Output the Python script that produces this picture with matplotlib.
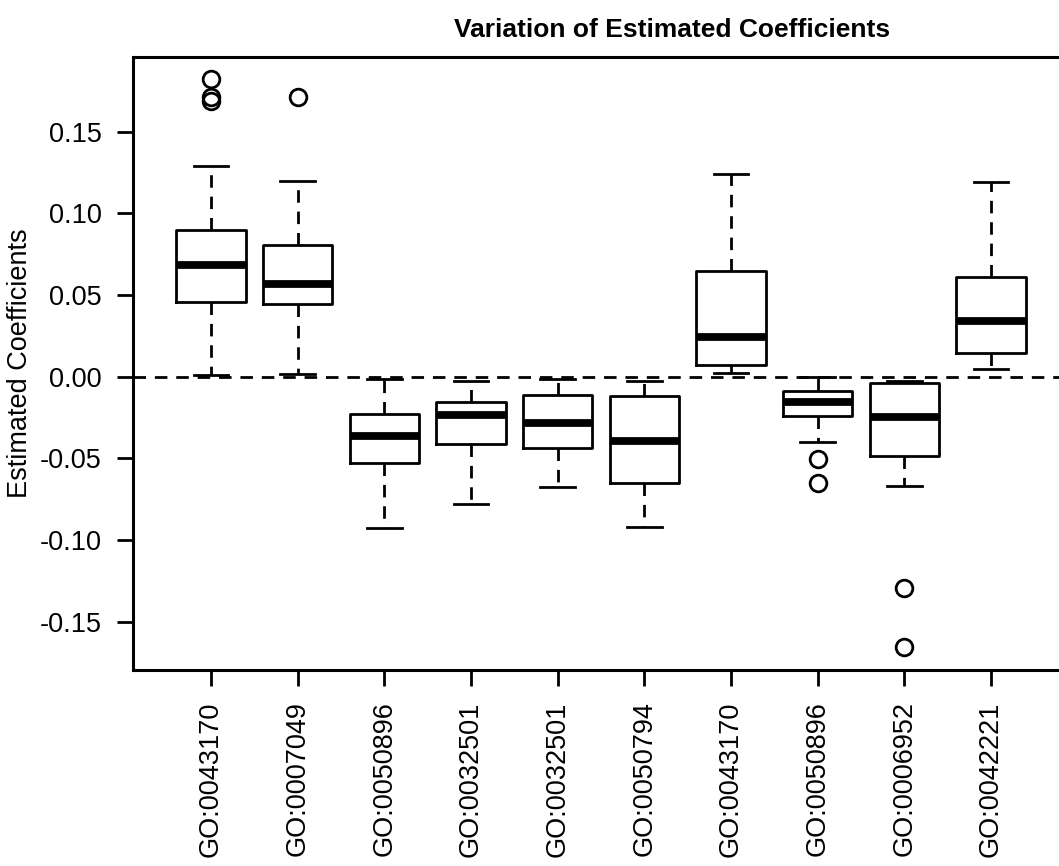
import matplotlib
matplotlib.use('Agg')
import matplotlib.pyplot as plt

plt.rcParams['font.family'] = ['Liberation Sans', 'DejaVu Sans']

labels = ['GO:0043170', 'GO:0007049', 'GO:0050896', 'GO:0032501', 'GO:0032501',
          'GO:0050794', 'GO:0043170', 'GO:0050896', 'GO:0006952', 'GO:0042221']
whislo = [0.0010, 0.0017, -0.0925, -0.0781, -0.0675, -0.0920, 0.0025, -0.0398, -0.0669, 0.0045]
q1 = [0.0456, 0.0443, -0.0527, -0.0412, -0.0435, -0.0653, 0.0072, -0.0241, -0.0484, 0.0143]
med = [0.0684, 0.0568, -0.0363, -0.0235, -0.0286, -0.0392, 0.0241, -0.0153, -0.0245, 0.0341]
q3 = [0.0898, 0.0806, -0.0230, -0.0157, -0.0110, -0.0118, 0.0647, -0.0088, -0.0040, 0.0612]
whishi = [0.1288, 0.1196, -0.0014, -0.0024, -0.0014, -0.0024, 0.1241, -0.0004, -0.0024, 0.1190]
fliers = [[0.1825, 0.1710, 0.1690], [0.1715], [], [], [], [], [], [-0.0506, -0.0649],
          [-0.1296, -0.1657], []]

stats = []
for i in range(len(labels)):
    stats.append(dict(whislo=whislo[i], q1=q1[i], med=med[i], q3=q3[i],
                      whishi=whishi[i], fliers=fliers[i], label=labels[i]))

fig = plt.figure(figsize=(10.59, 8.66), dpi=100)
# right edge of the plot box falls just outside the picture, as in the reference
ax = fig.add_axes([133 / 1059, 196 / 866, 936 / 1059, 613 / 866])

dash = (0, (4.5, 3.2))
ax.axhline(0, color='black', lw=2.0, ls=dash, zorder=1)

ax.bxp(stats, positions=range(1, 11), widths=0.8, patch_artist=False,
       boxprops=dict(color='black', lw=2.0),
       medianprops=dict(color='black', lw=5.6, solid_capstyle='butt'),
       whiskerprops=dict(color='black', lw=2.0, ls=dash),
       capprops=dict(color='black', lw=2.0),
       capwidths=0.4,
       flierprops=dict(marker='o', markersize=12, markerfacecolor='none',
                       markeredgecolor='black', markeredgewidth=2.0))

ax.set_xlim(0.1, 10.9)
ax.set_ylim(-0.1796, 0.1958)
ax.set_yticks([-0.15, -0.10, -0.05, 0.00, 0.05, 0.10, 0.15])
ax.set_yticklabels(['-0.15', '-0.10', '-0.05', '0.00', '0.05', '0.10', '0.15'])
ax.set_xticks(range(1, 11))
ax.set_xticklabels(labels, rotation=90)
ax.tick_params(axis='both', length=11.5, width=2.0, pad=11, labelsize=19.5, colors='black')

for s in ax.spines.values():
    s.set_linewidth(2.2)

ax.set_ylabel('Estimated Coefficients', fontsize=19.5, labelpad=5)
fig.text(672 / 1059, 1 - 30 / 866, 'Variation of Estimated Coefficients',
         ha='center', va='center', fontsize=19, fontweight='bold')

fig.savefig('out.png', dpi=100)
